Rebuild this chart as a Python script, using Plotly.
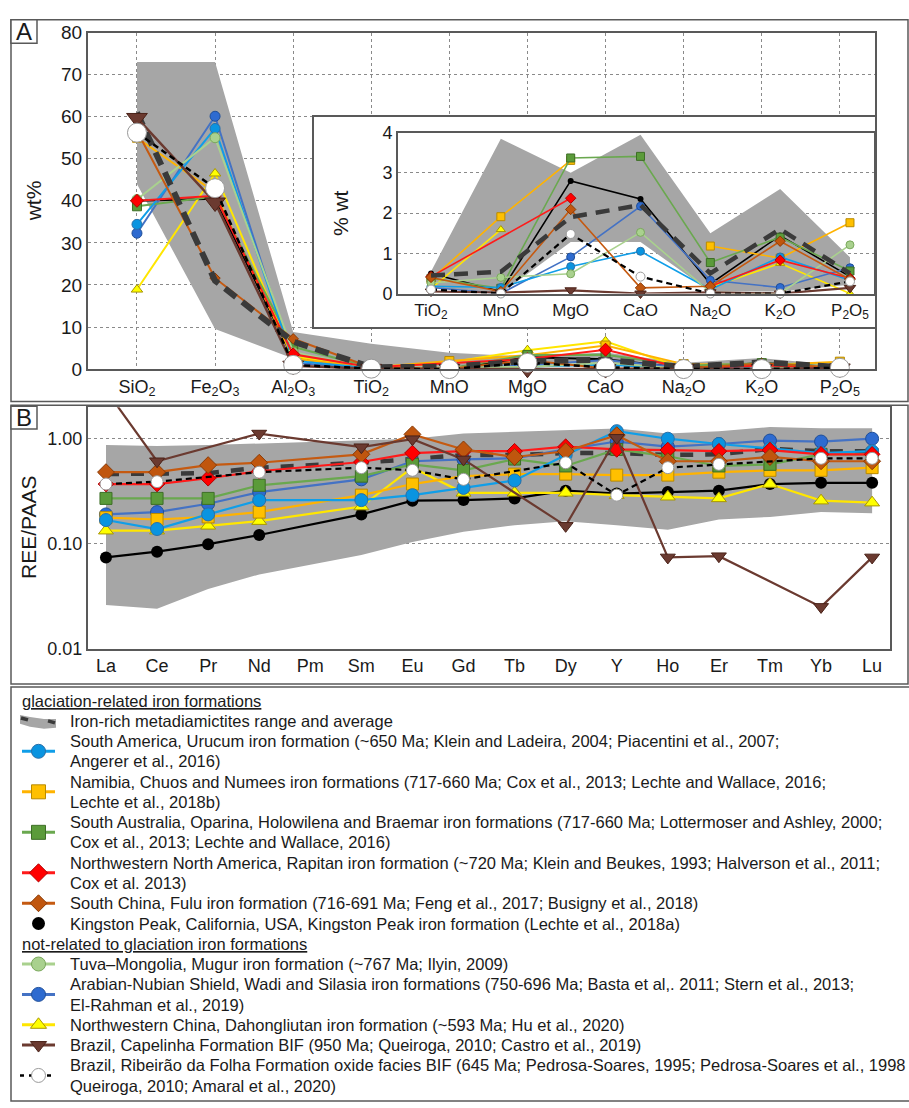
import plotly.graph_objects as go

W, H = 909, 1108
FONT = "Liberation Sans, Arial, Helvetica, sans-serif"
FRAME = "#595959"
GRID = "#8a8a8a"
TXT = "#1a1a1a"

# ---------------- Panel A: major elements (wt%) ----------------
oxides = ["SiO<sub>2</sub>", "Fe<sub>2</sub>O<sub>3</sub>", "Al<sub>2</sub>O<sub>3</sub>",
          "TiO<sub>2</sub>", "MnO", "MgO", "CaO", "Na<sub>2</sub>O", "K<sub>2</sub>O",
          "P<sub>2</sub>O<sub>5</sub>"]

range_hi = [73, 73, 8.8, 6.0, 3.85, 3.0, 3.95, 1.5, 2.6, 0.9]
range_lo = [44, 9.5, 2.5, 0.2, 0.05, 1.3, 1.3, 0.1, 0.05, 0.2]
inset_range_hi = [0.55, 3.85, 3.0, 3.95, 1.5, 2.6, 0.9]
inset_range_lo = [0.15, 0.0, 1.28, 1.28, 0.05, 0.05, 0.22]
avg_major = [61, 21, 6.5, 0.45, 0.54, 1.9, 2.2, 0.5, 1.6, 0.5]

urucum_major = [34.4, 57.2, 2.0, 0.18, 0.15, 0.67, 1.05, 0.10, 0.91, 0.33]
namibia_major = [55, 42, 2.5, 0.35, 1.91, 3.31, 5.6, 1.18, 0.88, 1.76]
saus_major = [38.7, 41, 5.3, 0.38, 0.13, 3.37, 3.41, 0.77, 1.40, 0.56]
rapitan_major = [40, 41.2, 3.5, 0.42, None, 2.37, 4.6, 0.18, 0.83, 0.38]
fulu_major = [56.6, 21.6, 7.2, 0.40, 0.05, 2.09, 0.14, 0.18, 1.30, 0.35]
kingston_major = [40, 40.5, 2.5, 0.50, 0.05, 2.80, 2.35, 0.24, 1.44, 0.42]
tuva_major = [40.3, 55.0, 4.0, 0.26, 0.40, 0.49, 1.52, 0.03, 0.0, 1.21]
arabian_major = [32.3, 60.1, 1.5, 0.15, 0.0, 0.91, 2.17, 0.33, 0.15, 0.64]
dahong_major = [18.9, 46.5, 3.0, 0.12, 1.59, 4.5, 6.6, 0.15, 0.75, 0.0]
capelinha_major = [59.7, 39.6, 0.8, 0.05, 0.02, 0.08, 0.0, 0.03, 0.0, 0.14]
ribeirao_major = [56.2, 43.0, 1.0, 0.10, 0.0, 1.48, 0.42, 0.0, 0.0, 0.30]

INSET_MAX = 4

# ---------------- Panel B: REE/PAAS ----------------
ree = ["La", "Ce", "Pr", "Nd", "Pm", "Sm", "Eu", "Gd", "Tb", "Dy", "Y", "Ho", "Er", "Tm", "Yb", "Lu"]

ree_hi = [0.87, 0.85, 0.87, 0.90, None, 0.96, 1.00, 1.12, 1.16, 1.22, 1.25, 1.12, 1.18, 1.29, 1.26, 1.26]
ree_lo = [0.026, 0.024, 0.037, 0.051, None, 0.078, 0.104, 0.13, 0.15, 0.164, 0.15, 0.136, 0.17, 0.18, 0.20, 0.195]
avg_ree = [0.46, 0.46, 0.47, 0.53, None, 0.59, 0.64, 0.70, 0.70, 0.73, 0.73, 0.70, 0.71, 0.80, 0.76, 0.76]

urucum_ree = [0.168, 0.138, 0.19, 0.26, None, 0.26, 0.29, 0.34, 0.40, 0.70, 1.18, 1.0, 0.89, 0.81, 0.73, 0.76]
namibia_ree = [0.177, 0.17, 0.18, 0.20, None, 0.29, 0.37, 0.44, 0.46, 0.46, 0.45, 0.45, 0.48, 0.50, 0.50, 0.53]
saus_ree = [0.27, 0.27, 0.27, 0.36, None, 0.44, 0.57, 0.50, 0.64, 0.55, 0.79, 0.68, 0.55, 0.57, 0.71, 0.71]
rapitan_ree = [0.37, 0.37, 0.42, 0.49, None, 0.60, 0.73, 0.76, 0.76, 0.84, 0.79, 0.78, 0.76, 0.78, 0.71, 0.71]
fulu_ree = [0.48, 0.48, 0.56, 0.59, None, 0.71, 1.10, 0.79, 0.67, 0.76, 1.08, 0.61, 0.61, 0.67, 0.61, 0.61]
kingston_ree = [0.074, 0.084, 0.099, 0.121, None, 0.19, 0.257, 0.26, 0.27, 0.32, 0.30, 0.31, 0.32, 0.37, 0.38, 0.38]
arabian_ree = [0.19, 0.20, 0.24, 0.31, None, 0.41, 0.61, 0.635, 0.65, 0.79, 0.94, 0.84, 0.89, 0.96, 0.94, 1.0]
dahong_ree = [0.133, 0.133, 0.148, 0.164, None, 0.226, 0.53, 0.305, 0.305, 0.305, 0.29, 0.28, 0.27, 0.37, 0.257, 0.246]
capelinha_ree = [2.9, 0.61, None, 1.12, None, 0.83, 0.99, 0.635, None, 0.148, 1.02, 0.074, 0.076, None, 0.025, 0.074]
ribeirao_ree = [0.37, 0.39, None, 0.48, None, 0.53, 0.50, 0.41, None, 0.59, 0.29, 0.53, 0.57, None, 0.65, 0.65]

# ---------------- series styling ----------------
RANGE_FILL = "#a6a6a6"
AVG_COLOR = "#3a3a3a"

series = [
    dict(key="urucum", line="#109ee8", fill="#0a94e0", edge="#2a6fa8", symbol="circle",
         sizes=(10, 8, 13), major=urucum_major, ree=urucum_ree,
         label=["South America, Urucum iron formation (~650 Ma; Klein and Ladeira, 2004; Piacentini et al., 2007;",
                "Angerer et al., 2016)"]),
    dict(key="namibia", line="#ffb300", fill="#ffc000", edge="#b88a00", symbol="square",
         sizes=(9, 8, 12), major=namibia_major, ree=namibia_ree,
         label=["Namibia, Chuos and Numees iron formations (717-660 Ma; Cox et al., 2013; Lechte and Wallace, 2016;",
                "Lechte et al., 2018b)"]),
    dict(key="saus", line="#6aa84f", fill="#5b9b3a", edge="#3d6e26", symbol="square",
         sizes=(9, 8, 12), major=saus_major, ree=saus_ree,
         label=["South Australia, Oparina, Holowilena and Braemar iron formations (717-660 Ma; Lottermoser and Ashley, 2000;",
                "Cox et al., 2013; Lechte and Wallace, 2016)"]),
    dict(key="rapitan", line="#ff1a1a", fill="#ff0000", edge="#b00000", symbol="diamond",
         sizes=(10, 8, 12), major=rapitan_major, ree=rapitan_ree,
         label=["Northwestern North America, Rapitan iron formation (~720 Ma; Klein and Beukes, 1993; Halverson et al., 2011;",
                "Cox et al. 2013)"]),
    dict(key="fulu", line="#c55a11", fill="#c0560e", edge="#8a3a05", symbol="diamond",
         sizes=(8, 8, 13), major=fulu_major, ree=fulu_ree,
         label=["South China, Fulu iron formation (716-691 Ma; Feng et al., 2017; Busigny et al., 2018)"]),
    dict(key="kingston", line="#000000", fill="#000000", edge="#000000", symbol="circle",
         sizes=(10, 6, 12), major=kingston_major, ree=kingston_ree,
         label=["Kingston Peak, California, USA, Kingston Peak iron formation (Lechte et al., 2018a)"]),
    dict(key="tuva", line="#a9d18e", fill="#a9d18e", edge="#7aa85c", symbol="circle",
         sizes=(10, 8, 12), major=tuva_major, ree=None,
         label=["Tuva–Mongolia, Mugur iron formation (~767 Ma; Ilyin, 2009)"]),
    dict(key="arabian", line="#4472c4", fill="#2e6bd0", edge="#1f4f99", symbol="circle",
         sizes=(10, 8, 13), major=arabian_major, ree=arabian_ree,
         label=["Arabian-Nubian Shield, Wadi and Silasia iron formations (750-696 Ma; Basta et al,. 2011; Stern et al., 2013;",
                "El-Rahman et al., 2019)"]),
    dict(key="dahong", line="#ffe600", fill="#ffff00", edge="#a89600", symbol="triangle-up",
         sizes=(10, 8, 13), major=dahong_major, ree=dahong_ree,
         label=["Northwestern China, Dahongliutan iron formation (~593 Ma; Hu et al., 2020)"]),
    dict(key="capelinha", line="#6b3a30", fill="#6b3a30", edge="#4a2218", symbol="triangle-down",
         sizes=(18, 10, 13), major=capelinha_major, ree=capelinha_ree,
         label=["Brazil, Capelinha Formation BIF (950 Ma; Queiroga, 2010; Castro et al., 2019)"]),
    dict(key="ribeirao", line="#000000", fill="#ffffff", edge="#9a9a9a", symbol="circle",
         sizes=(19, 9, 12), major=ribeirao_major, ree=ribeirao_ree, dash="6px,4px",
         label=["Brazil, Ribeirão da Folha Formation oxide facies BIF (645 Ma; Pedrosa-Soares, 1995; Pedrosa-Soares et al., 1998",
                "Queiroga, 2010; Amaral et al., 2020)"]),
]
by_key = {s["key"]: s for s in series}

fig = go.Figure()


def band(xs, hi, lo, xa, ya):
    pts_hi = [(x, v) for x, v in zip(xs, hi) if v is not None]
    pts_lo = [(x, v) for x, v in zip(xs, lo) if v is not None]
    px_ = [p[0] for p in pts_hi] + [p[0] for p in pts_lo[::-1]]
    py_ = [p[1] for p in pts_hi] + [p[1] for p in pts_lo[::-1]]
    fig.add_trace(go.Scatter(x=px_, y=py_, mode="lines", fill="toself", fillcolor=RANGE_FILL,
                             line=dict(width=0, color=RANGE_FILL), xaxis=xa, yaxis=ya,
                             hoverinfo="skip", showlegend=False))


def series_trace(s, xs, ys, xa, ya, size, width, connect=True, clip=False):
    edge_w = 1 if s["key"] != "kingston" else 0
    fig.add_trace(go.Scatter(
        x=xs, y=ys, mode="lines+markers", connectgaps=connect, cliponaxis=clip,
        line=dict(color=s["line"], width=width, dash=s.get("dash", "solid")),
        marker=dict(symbol=s["symbol"], size=size, color=s["fill"],
                    line=dict(color=s["edge"], width=edge_w)),
        xaxis=xa, yaxis=ya, hoverinfo="skip", showlegend=False))


def inset_xy(vals):
    xs, ys = [], []
    for i, v in enumerate(vals[3:]):
        if v is None:
            continue
        xs.append(i)
        ys.append(v if v <= INSET_MAX else None)
    return xs, ys


idx_major = list(range(len(oxides)))
idx_inset = list(range(len(oxides) - 3))
idx_ree = list(range(len(ree)))

lower_keys = ["kingston", "dahong", "arabian", "namibia", "saus", "urucum", "tuva", "rapitan", "fulu"]
upper_keys = ["capelinha", "ribeirao"]

# ---- Panel A main ----
band(idx_major, range_hi, range_lo, "x", "y")
for k in lower_keys:
    s = by_key[k]
    series_trace(s, idx_major, s["major"], "x", "y", s["sizes"][0], 2)
fig.add_trace(go.Scatter(x=idx_major, y=avg_major, mode="lines",
                         line=dict(color=AVG_COLOR, width=6, dash="14px,8px"),
                         xaxis="x", yaxis="y", hoverinfo="skip", showlegend=False))
for k in upper_keys:
    s = by_key[k]
    series_trace(s, idx_major, s["major"], "x", "y", s["sizes"][0], 2.5)

# ---- inset frame (empty subplot used as white box) ----
fig.add_trace(go.Scatter(x=[], y=[], xaxis="x2", yaxis="y2", showlegend=False, hoverinfo="skip"))

# ---- Panel A inset ----
band(idx_inset, inset_range_hi, inset_range_lo, "x3", "y3")
for k in lower_keys:
    s = by_key[k]
    xs, ys = inset_xy(s["major"])
    series_trace(s, xs, ys, "x3", "y3", s["sizes"][1], 1.6, connect=False)
ax_, ay_ = inset_xy(avg_major)
fig.add_trace(go.Scatter(x=ax_, y=ay_, mode="lines",
                         line=dict(color=AVG_COLOR, width=4.5, dash="14px,9px"),
                         xaxis="x3", yaxis="y3", hoverinfo="skip", showlegend=False))
for k in upper_keys:
    s = by_key[k]
    xs, ys = inset_xy(s["major"])
    series_trace(s, xs, ys, "x3", "y3", s["sizes"][1], 2.2, connect=False)

# ---- Panel B ----
band(idx_ree, ree_hi, ree_lo, "x4", "y4")
fig.add_trace(go.Scatter(x=idx_ree, y=avg_ree, mode="lines", connectgaps=True,
                         line=dict(color=AVG_COLOR, width=4.5, dash="13px,12px"),
                         xaxis="x4", yaxis="y4", hoverinfo="skip", showlegend=False))
for k in lower_keys + upper_keys:
    s = by_key[k]
    if s["ree"] is None:
        continue
    series_trace(s, idx_ree, s["ree"], "x4", "y4", s["sizes"][2], 2.2, clip=True)

# ---- legend (pixel coordinates on a hidden subplot) ----
LEG_X_TEXT = 68
LEG_X_HEAD = 20
LEG_Y0 = 704
LEG_STEP = 20.65
LEG_FONT = 16.5
legend_order = [
    ("head", "glaciation-related iron formations"),
    ("range", "Iron-rich metadiamictites range and average"),
    ("urucum", None), ("namibia", None), ("saus", None), ("rapitan", None),
    ("fulu", None), ("kingston", None),
    ("head", "not-related to glaciation iron formations"),
    ("tuva", None), ("arabian", None), ("dahong", None), ("capelinha", None), ("ribeirao", None),
]

annotations = []
row = 0
for key, text in legend_order:
    if key == "head":
        y = LEG_Y0 + row * LEG_STEP
        annotations.append(dict(x=LEG_X_HEAD, y=y, xref="x5", yref="y5", text="<u>%s</u>" % text,
                                showarrow=False, xanchor="left", yanchor="middle",
                                font=dict(family=FONT, size=LEG_FONT, color=TXT)))
        row += 1
        continue
    lines = [text] if key == "range" else by_key[key]["label"]
    ys = []
    for ln in lines:
        y = LEG_Y0 + row * LEG_STEP
        ys.append(y)
        annotations.append(dict(x=LEG_X_TEXT, y=y, xref="x5", yref="y5", text=ln,
                                showarrow=False, xanchor="left", yanchor="middle",
                                font=dict(family=FONT, size=LEG_FONT, color=TXT)))
        row += 1
    yc = sum(ys) / len(ys)
    if key == "range":
        fig.add_trace(go.Scatter(
            x=[20, 30, 44, 56, 56, 44, 30, 20], y=[yc - 6, yc - 4, yc - 2, yc - 2, yc + 7, yc + 8, yc + 6, yc + 3],
            mode="lines", fill="toself", fillcolor=RANGE_FILL, line=dict(width=0, color=RANGE_FILL),
            xaxis="x5", yaxis="y5", hoverinfo="skip", showlegend=False))
        for seg in ([21, 28], [48, 55]):
            fig.add_trace(go.Scatter(x=seg, y=[yc - 3, yc - 1] if seg[0] < 30 else [yc, yc + 2], mode="lines",
                                     line=dict(color=AVG_COLOR, width=3.5),
                                     xaxis="x5", yaxis="y5", hoverinfo="skip", showlegend=False))
        continue
    s = by_key[key]
    if key == "kingston":
        fig.add_trace(go.Scatter(x=[38.5], y=[yc], mode="markers",
                                 marker=dict(symbol="circle", size=13, color="#000"),
                                 xaxis="x5", yaxis="y5", hoverinfo="skip", showlegend=False))
        continue
    lw = 3 if key != "ribeirao" else 2.5
    lx = [22, 55] if key != "ribeirao" else [20, 56]
    fig.add_trace(go.Scatter(x=lx, y=[yc, yc], mode="lines",
                             line=dict(color=s["line"], width=lw, dash="4px,5px" if key == "ribeirao" else "solid"),
                             xaxis="x5", yaxis="y5", hoverinfo="skip", showlegend=False))
    fig.add_trace(go.Scatter(x=[38.5], y=[yc], mode="markers",
                             marker=dict(symbol=s["symbol"], size=14 if key != "fulu" else 13, color=s["fill"],
                                         line=dict(color=s["edge"], width=1)),
                             xaxis="x5", yaxis="y5", hoverinfo="skip", showlegend=False))


# ---- axis titles and panel letters ----
def P(x, y):
    return x / W, 1 - y / H


def text_ann(x, y, text, size, angle=0):
    px_, py_ = P(x, y)
    annotations.append(dict(x=px_, y=py_, xref="paper", yref="paper", text=text, showarrow=False,
                            textangle=angle, xanchor="center", yanchor="middle",
                            font=dict(family=FONT, size=size, color=TXT)))


text_ann(33, 195, "wt%", 21, -90)
text_ann(340, 207, "% wt", 21, -90)
text_ann(29, 528, "REE/PAAS", 21, -90)
text_ann(24, 22, "A", 24)
text_ann(24, 415, "B", 24)


def rect(x0, y0, x1, y1, color=FRAME, width=1.5, fill=None, layer="above"):
    a0, b0 = P(x0, y0)
    a1, b1 = P(x1, y1)
    return dict(type="rect", xref="paper", yref="paper", x0=a0, y0=b0, x1=a1, y1=b1,
                line=dict(color=color, width=width), fillcolor=fill or "rgba(0,0,0,0)", layer=layer)


shapes = [
    rect(11, 10, 908, 399),
    rect(11, 403, 908, 687),
    rect(11, 690, 912, 1112),
    rect(11, 10, 37, 34, fill="white"),
    rect(11, 404, 37, 427, fill="white"),
]

tickfont = dict(family=FONT, size=18, color=TXT)
base_axis = dict(zeroline=False, showline=True, mirror=True, linecolor=FRAME, linewidth=2, ticks="")


def dom_x(a, b):
    return [a / W, b / W]


def dom_y(top, bottom):
    return [1 - bottom / H, 1 - top / H]


fig.update_layout(
    width=W, height=H, margin=dict(l=0, r=0, t=0, b=0),
    paper_bgcolor="white", plot_bgcolor="white", showlegend=False,
    font=dict(family=FONT, color=TXT),
    xaxis=dict(base_axis, domain=dom_x(88, 875), range=[-0.627, 9.45], tickvals=idx_major, ticktext=oxides,
               showgrid=True, griddash="dot", gridcolor=GRID, gridwidth=1, tickfont=tickfont, anchor="y"),
    yaxis=dict(base_axis, domain=dom_y(23, 366), range=[0, 80], tickvals=list(range(0, 81, 10)),
               showgrid=True, griddash="dot", gridcolor=GRID, gridwidth=1,
               tickfont=dict(tickfont, size=19), anchor="x"),
    xaxis2=dict(base_axis, domain=dom_x(314, 875), range=[0, 1], showticklabels=False, showgrid=False,
                linewidth=1.5, anchor="y2"),
    yaxis2=dict(base_axis, domain=dom_y(109, 323), range=[0, 1], showticklabels=False, showgrid=False,
                linewidth=1.5, anchor="x2"),
    xaxis3=dict(base_axis, domain=dom_x(398, 874), range=[-0.473, 6.344], tickvals=idx_inset,
                ticktext=oxides[3:], showgrid=False, tickfont=dict(tickfont, size=17), anchor="y3"),
    yaxis3=dict(base_axis, domain=dom_y(125, 289), range=[0, 4], tickvals=[0, 1, 2, 3, 4],
                showgrid=True, griddash="dot", gridcolor=GRID, gridwidth=1.2,
                tickfont=dict(tickfont, size=18), anchor="x3"),
    xaxis4=dict(base_axis, domain=dom_x(88, 890), range=[-0.352, 15.35], tickvals=idx_ree, ticktext=ree,
                showgrid=False, tickfont=tickfont, anchor="y4"),
    yaxis4=dict(base_axis, type="log", domain=dom_y(405, 651), range=[-2, 0.299],
                tickvals=[0.01, 0.1, 1], ticktext=["0.01", "0.10", "1.00"],
                showgrid=True, griddash="dot", gridcolor=GRID, gridwidth=1, tickfont=tickfont, anchor="x4"),
    xaxis5=dict(domain=[0, 1], range=[0, W], visible=False, anchor="y5"),
    yaxis5=dict(domain=dom_y(688, H), range=[H, 688], visible=False, anchor="x5"),
    annotations=annotations,
    shapes=shapes,
)

fig.write_html("out.html", config={"displayModeBar": False})
